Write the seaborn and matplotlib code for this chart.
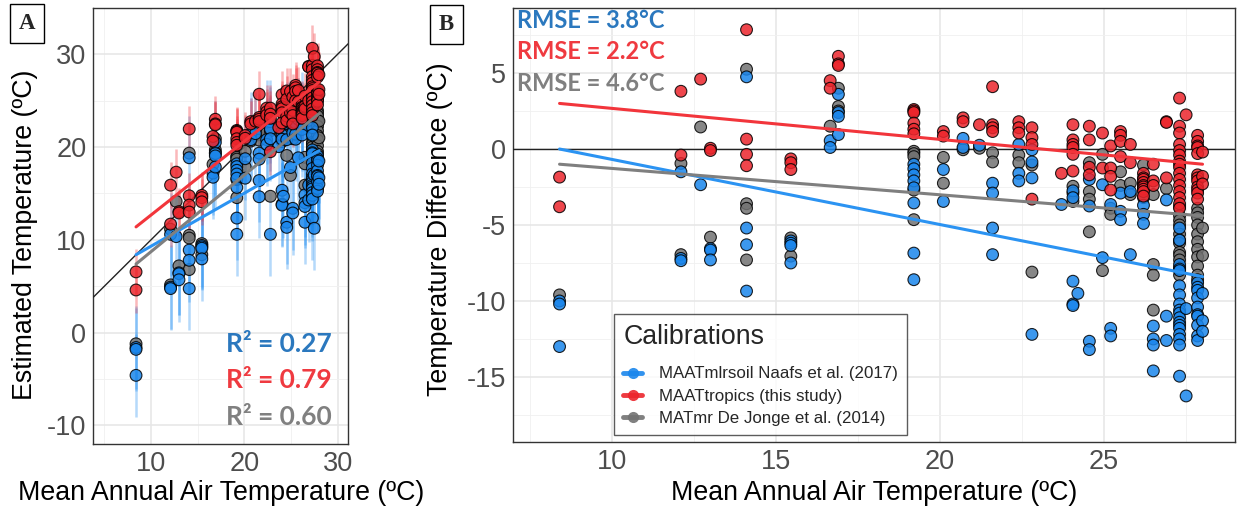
import numpy as np
import pandas as pd
import matplotlib
matplotlib.use("Agg")
import matplotlib.pyplot as plt
import seaborn as sns
from matplotlib.lines import Line2D
from matplotlib.ticker import MultipleLocator

# ---------------- data ----------------
calibrations = ["MAATmlrsoil Naafs et al. (2017)",
                "MAATtropics (this study)",
                "MATmr De Jonge et al. (2014)"]

site_maat = [8.4, 12.1, 12.7, 13.0, 14.1, 15.45, 16.65, 16.9, 19.2, 20.1,
             20.7, 21.2, 21.6, 22.4, 22.8, 23.7, 24.05, 24.2, 24.55, 24.95,
             25.2, 25.5, 25.8, 26.2, 26.5, 26.9, 27.3, 27.5, 27.85, 28.0]

# temperature difference (estimated - MAAT) per site, MAATmlrsoil
diff_naafs = [
    [-10.0, -10.2, -13.0], [-1.5, -7.2, -7.35], [-2.35], [-6.55, -6.65, -7.3],
    [4.75, -5.2, -6.3, -9.35], [-6.05, -6.2, -6.35, -7.5], [0.55, 0.1],
    [3.6, 2.4, 2.15, 0.95], [-1.0, -1.3, -1.7, -2.1, -2.55, -3.55, -6.85, -8.6],
    [-1.35, -3.45], [0.7, 0.1], [0.25], [-2.25, -2.9, -5.2, -6.95],
    [0.3, -1.6, -2.1], [-0.05, -0.85, -1.9, -12.2], [-3.65],
    [-2.75, -3.2, -8.7, -10.2, -10.3], [-9.5], [-2.0, -3.75, -12.65, -13.2],
    [-2.35, -7.15], [-3.65, -11.8, -12.3], [-2.9, -4.1, -4.65], [-2.8, -6.95],
    [-2.6, -3.7, -4.3, -4.9], [-11.65, -12.5, -12.9, -14.6], [-3.35, -11.0, -12.6],
    [-5.2, -6.0, -7.6, -7.9, -8.0, -9.0, -9.6, -10.2, -10.6, -10.8, -11.1,
     -11.4, -11.6, -11.8, -12.2, -12.5, -12.9, -14.95],
    [-10.5, -16.25],
    [-8.8, -9.1, -9.3, -9.8, -10.4, -10.9, -11.0, -11.6, -12.3, -12.6],
    [-9.5, -11.3, -12.0]]

# MAATtropics
diff_tropics = [
    [-1.85, -3.8], [3.8, -0.4], [4.6], [0.05, -0.1], [7.85, 0.65, -0.35, -1.1],
    [-0.65, -0.9, -1.35], [4.5, 4.0], [6.1, 5.6, 5.5],
    [2.6, 2.5, 2.4, 1.7, 1.3, 1.0], [1.15, 0.85], [2.05, 1.8], [1.6],
    [4.1, 1.6, 1.4, 1.15], [1.8, 1.4, 1.05], [1.4, 0.75, 0.3, -3.3], [-1.6],
    [1.6, 0.6, 0.3, 0.1, -0.35, -1.45], [], [1.5, 0.6, -1.2, -1.7],
    [1.05, -1.25], [0.2, -1.25, -1.8, -2.7], [1.15, 0.9, 0.5, -0.5], [0.3, -0.9],
    [-1.6, -1.9, -2.0, -2.2, -2.4, -2.5, -2.65, -2.8, -3.1], [-1.0, -2.1, -2.4],
    [1.8, 1.75, -1.9],
    [3.35, 1.5, 1.05, 0.3, -0.1, -0.4, -0.8, -1.0, -1.2, -1.6, -2.0, -2.4,
     -2.8, -3.2, -3.6, -3.9],
    [2.25],
    [0.9, 0.5, 0.2, 0.1, -0.3, -1.7, -1.9, -2.1, -2.5, -2.7, -2.9, -3.3],
    [-0.2, -1.8, -2.3]]

# MATmr
diff_dejonge = [
    [-9.6], [-0.95, -6.95], [1.45], [-5.8], [5.25, -3.6, -3.9, -7.3],
    [-5.85, -7.05], [1.5], [4.0, 2.8, 2.5], [-0.15, -0.3, -0.5, -2.7, -4.65],
    [-0.55, -2.25], [-0.05], [0.05], [-0.25, -0.85], [-0.4, -0.9],
    [-1.05, -8.1], [], [-2.45, -2.9, -3.45], [], [-0.9, -2.8, -3.3, -5.45],
    [-0.35, -8.0], [-3.9, -4.3], [-1.5, -2.4], [-2.25, -3.0], [-1.05, -2.3, -3.2],
    [-3.0, -7.6, -8.3, -10.6], [-2.6],
    [-3.8, -4.4, -4.7, -5.0, -5.6, -6.0, -6.2, -6.8, -7.0, -7.3, -7.8, -8.3],
    [],
    [-3.9, -4.2, -4.5, -5.0, -5.6, -6.1, -6.6, -7.1, -7.7, -8.3, -8.6],
    [-5.2, -7.0]]

# calibration uncertainty (1 sd, degC)
calib_error = [4.5, 2.5, 0.0]

# fitted trend of temperature difference vs MAAT
trend_maat = [8.4, 28.0]
trend_naafs = [0.0, -8.4]
trend_tropics = [3.0, -1.0]
trend_dejonge = [-1.0, -4.4]

r2_labels = ["R² = 0.27", "R² = 0.79", "R² = 0.60"]
rmse_labels = ["RMSE = 3.8°C", "RMSE = 2.2°C", "RMSE = 4.6°C"]

# ---------------- build frames ----------------
def expand(diffs, name, err):
    rows = []
    for m, ds in zip(site_maat, diffs):
        for d in ds:
            rows.append((m, d, m + d, err, name))
    return pd.DataFrame(rows, columns=["maat", "diff", "est", "err", "cal"])

df_n = expand(diff_naafs, calibrations[0], calib_error[0])
df_t = expand(diff_tropics, calibrations[1], calib_error[1])
df_d = expand(diff_dejonge, calibrations[2], calib_error[2])
# drawing order: grey, blue, red on top
df = pd.concat([df_d, df_n, df_t], ignore_index=True)

trend = pd.concat([
    pd.DataFrame({"maat": trend_maat, "diff": trend_naafs, "cal": calibrations[0]}),
    pd.DataFrame({"maat": trend_maat, "diff": trend_tropics, "cal": calibrations[1]}),
    pd.DataFrame({"maat": trend_maat, "diff": trend_dejonge, "cal": calibrations[2]}),
], ignore_index=True)
trend["est"] = trend["maat"] + trend["diff"]

# ---------------- style ----------------
sns.set_theme(style="white")
plt.rcParams["font.family"] = ["Liberation Sans", "DejaVu Sans"]
plt.rcParams["axes.unicode_minus"] = False

pt_colors = {calibrations[0]: "#1a86ec", calibrations[1]: "#ec252c", calibrations[2]: "#727272"}
ln_colors = {calibrations[0]: "#2b93f2", calibrations[1]: "#f2353b", calibrations[2]: "#7f7f7f"}
txt_colors = ["#2b78be", "#ef3a40", "#808080"]

W, H = 1241, 511
fig = plt.figure(figsize=(W / 100, H / 100), dpi=100)

def px_axes(l, t, r, b):
    return fig.add_axes([l / W, 1 - b / H, (r - l) / W, (b - t) / H])

axA = px_axes(93.3, 8.3, 348.3, 444.0)
axB = px_axes(513.3, 8.3, 1235.0, 442.3)

def style_axis(ax):
    ax.set_axisbelow(True)
    ax.grid(True, which="major", color="#e6e6e6", lw=1.1)
    ax.grid(True, which="minor", color="#f0f0f0", lw=0.6)
    for s in ax.spines.values():
        s.set_color("#333333")
        s.set_linewidth(1.0)
    ax.tick_params(which="major", length=3, width=0.8, color="#333333",
                   labelcolor="#4d4d4d", labelsize=19.5, pad=2)
    ax.tick_params(which="minor", length=0)

# ---------------- panel A ----------------
for cal in [calibrations[2], calibrations[0], calibrations[1]]:
    sub = df[df["cal"] == cal]
    if sub["err"].iloc[0] > 0:
        axA.vlines(sub["maat"], sub["est"] - sub["err"], sub["est"] + sub["err"],
                   color=ln_colors[cal], alpha=0.35, lw=1.8, zorder=2)

axA.axline((0, 0), slope=1, color="#222222", lw=1.0, zorder=3)
sns.scatterplot(data=df, x="maat", y="est", hue="cal", palette=pt_colors,
                s=72, alpha=0.85, edgecolor="black", linewidth=0.8,
                legend=False, ax=axA, zorder=4)
sns.lineplot(data=trend, x="maat", y="est", hue="cal", palette=ln_colors,
             lw=2.2, legend=False, ax=axA, zorder=5)

axA.set_xlim(3.82, 31.15)
axA.set_ylim(-12.0, 34.96)
axA.xaxis.set_major_locator(MultipleLocator(10))
axA.xaxis.set_minor_locator(MultipleLocator(5))
axA.yaxis.set_major_locator(MultipleLocator(10))
axA.yaxis.set_minor_locator(MultipleLocator(5))
style_axis(axA)
axA.set_xlabel("Mean Annual Air Temperature (ºC)", fontsize=19.3, color="black")
axA.set_ylabel("Estimated Temperature (ºC)", fontsize=19.3, color="black")
axA.xaxis.set_label_coords(0.5, -0.083)
axA.yaxis.set_label_coords(-0.217, 0.48)

for lab, c, yy in zip(r2_labels, txt_colors, [0.2295, 0.147, 0.062]):
    axA.text(0.936, yy, lab, transform=axA.transAxes, ha="right", va="center",
             fontsize=19, fontweight="bold", color=c, family=["Lato", "DejaVu Sans"])

# ---------------- panel B ----------------
axB.axhline(0, color="#222222", lw=1.0, zorder=3)
sns.scatterplot(data=df, x="maat", y="diff", hue="cal", palette=pt_colors,
                s=72, alpha=0.85, edgecolor="black", linewidth=0.8,
                legend=False, ax=axB, zorder=4)
sns.lineplot(data=trend, x="maat", y="diff", hue="cal", palette=ln_colors,
             lw=2.2, legend=False, ax=axB, zorder=5)

axB.set_xlim(6.99, 28.99)
axB.set_ylim(-19.3, 9.26)
axB.xaxis.set_major_locator(MultipleLocator(5))
axB.xaxis.set_minor_locator(MultipleLocator(2.5))
axB.yaxis.set_major_locator(MultipleLocator(5))
axB.yaxis.set_minor_locator(MultipleLocator(2.5))
style_axis(axB)
axB.set_xlabel("Mean Annual Air Temperature (ºC)", fontsize=19.3, color="black")
axB.set_ylabel("Temperature Difference (ºC)", fontsize=19.3, color="black")
axB.xaxis.set_label_coords(0.5, -0.087)
axB.yaxis.set_label_coords(-0.0836, 0.49)

for lab, c, yy in zip(rmse_labels, txt_colors, [0.9714, 0.900, 0.827]):
    axB.text(0.005, yy, lab, transform=axB.transAxes, ha="left", va="center",
             fontsize=17, fontweight="bold", color=c, family=["Lato", "DejaVu Sans"])

handles = [Line2D([0], [0], color=pt_colors[c], lw=3.5, marker="o", markersize=8,
                  markeredgewidth=0, alpha=0.9) for c in calibrations]
leg = axB.legend(handles, calibrations, title="Calibrations", loc="lower left",
                 bbox_to_anchor=(0.1395, 0.0168), borderaxespad=0, fontsize=12.2,
                 title_fontsize=19.3, frameon=True, fancybox=False, handlelength=1.1,
                 handletextpad=1.0, labelspacing=0.42, borderpad=0.55,
                 alignment="left")
leg._legend_box.sep = 12
leg.get_frame().set_edgecolor("#333333")
leg.get_frame().set_linewidth(1.0)
leg.set_zorder(10)

# panel tags
for x, y, lab in [(27, 23.5, "A"), (446.5, 24.5, "B")]:
    fig.text(x / W, 1 - y / H, lab, ha="center", va="center", fontsize=16.5,
             fontweight="bold", family=["Liberation Serif", "DejaVu Serif"],
             bbox=dict(boxstyle="square,pad=0.4", fc="white", ec="black", lw=1.0))

fig.savefig("out.png", dpi=100)
